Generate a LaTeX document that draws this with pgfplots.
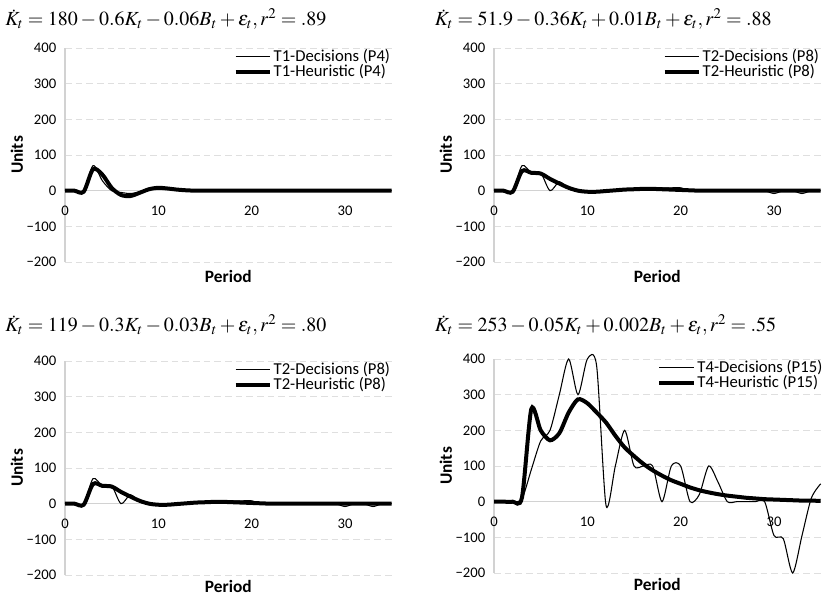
\documentclass[border=0pt]{standalone}
\usepackage{mathptmx}
\usepackage[no-math]{fontspec}
\setmainfont{Carlito}
\usepackage{pgfplots}
\pgfplotsset{compat=1.18}

\pgfplotstableread{
x d1 h1 d2 h2 d4 h4
0 0 0 0 0 0 0
1 0 0 0 0 0 0
2 -3 -3 -3 -3 0 0
3 70 60 70 55 8 12
4 28 45 50 50 90 260
5 0 8 50 48 170 200
6 -5 -12 0 33 200 172
7 -8 -15 25 20 300 192
8 -3 -6 5 8 400 250
9 5 4 0 0 300 287
10 8 8 -3 -3 400 276
11 6 6 -3 -3 380 250
12 3 3 -1 -1 -10 222
13 0 1 1 1 100 185
14 0 0 3 3 200 152
15 0 0 4 4 100 128
16 0 0 8 5 100 106
17 0 0 8 5 100 88
18 0 0 8 4 0 73
19 0 0 8 3 100 60
20 3 0 8 2 100 50
21 0 0 0 1 0 40
22 0 0 0 0 20 32
23 0 0 0 0 100 26
24 0 0 0 0 55 21
25 0 0 0 0 0 17
26 0 0 0 0 0 14
27 3 0 0 0 0 11
28 0 0 0 0 0 9
29 0 0 0 0 0 7
30 0 0 -8 0 -95 6
31 0 0 0 0 -104 5
32 0 0 0 0 -200 4
33 0 0 -8 0 -95 3
34 0 0 0 0 10 3
35 0 0 0 0 50 2
}\data

\newcommand\legfont{\fontsize{12.5}{13}\selectfont}
\pgfplotsset{
 panel/.style={
  scale only axis, width=245pt, height=160.5pt,
  xmin=0, xmax=35, ymin=-200, ymax=400,
  axis x line=middle, axis y line=left,
  hide obscured x ticks=false, hide obscured y ticks=false,
  axis line style={draw=gray!35, line width=0.8pt, -},
  xtick={0,10,20,30}, xticklabels={0,10,20,30},
  ytick={-200,-100,0,100,200,300,400},
  yticklabels={−200,−100,0,100,200,300,400},
  major tick length=0pt,
  ymajorgrids, grid style={dash pattern=on 5pt off 3pt, gray!25, line width=0.6pt},
  tick label style={font=\fontsize{11}{13}\selectfont, black},
  xticklabel style={anchor=north, yshift=-8pt},
  yticklabel style={anchor=east, xshift=-3pt},
  xlabel={Period}, ylabel={Units},
  label style={font=\fontsize{13}{15}\selectfont\bfseries},
  xlabel style={at={(axis description cs:0.5,0)}, anchor=north, yshift=-3pt},
  ylabel style={at={(axis description cs:-0.147,0.5)}, anchor=center},
  legend style={draw=none, fill=none, at={(1.0,1.0)}, anchor=north east,
    font=\legfont, row sep=-1.5pt, inner sep=0pt,
    nodes={inner sep=1pt, font=\legfont}},
  legend cell align=left,
  legend image code/.code={\draw[##1] (0pt,0pt) -- (26pt,0pt);},
  clip=false,
 },
 dec/.style={black, line width=0.8pt, smooth, no markers},
 heu/.style={black, line width=3pt, smooth, no markers},
}

\begin{document}
\begin{tikzpicture}
\useasboundingbox (0,0) rectangle (619.5pt,-448.5pt);

\node[anchor=base west, font=\fontsize{15}{17}\selectfont, inner sep=0pt] at (3.75pt,-19.5pt)
  {$\dot{K}_t = 180 - 0.6K_t - 0.06B_t + \varepsilon_t, r^2 = .89$};
\node[anchor=base west, font=\fontsize{15}{17}\selectfont, inner sep=0pt] at (326pt,-19.5pt)
  {$\dot{K}_t = 51.9 - 0.36K_t + 0.01B_t + \varepsilon_t, r^2 = .88$};
\node[anchor=base west, font=\fontsize{15}{17}\selectfont, inner sep=0pt] at (3.75pt,-249pt)
  {$\dot{K}_t = 119 - 0.3K_t - 0.03B_t + \varepsilon_t, r^2 = .80$};
\node[anchor=base west, font=\fontsize{15}{17}\selectfont, inner sep=0pt] at (326pt,-249pt)
  {$\dot{K}_t = 253 - 0.05K_t + 0.002B_t + \varepsilon_t, r^2 = .55$};

\begin{axis}[panel, at={(48.75pt,-196.5pt)}, anchor=south west]
\addplot[dec] table[x=x,y=d1] {\data};
\addplot[heu] table[x=x,y=h1] {\data};
\legend{T1-Decisions (P4), T1-Heuristic (P4)}
\end{axis}

\begin{axis}[panel, at={(370.5pt,-196.5pt)}, anchor=south west]
\addplot[dec] table[x=x,y=d2] {\data};
\addplot[heu] table[x=x,y=h2] {\data};
\legend{T2-Decisions (P8), T2-Heuristic (P8)}
\end{axis}

\begin{axis}[panel, at={(48.75pt,-431.25pt)}, anchor=south west, xlabel style={yshift=2.5pt}]
\addplot[dec] table[x=x,y=d2] {\data};
\addplot[heu] table[x=x,y=h2] {\data};
\legend{T2-Decisions (P8), T2-Heuristic (P8)}
\end{axis}

\begin{axis}[panel, at={(370.5pt,-429.75pt)}, anchor=south west, xlabel style={yshift=2.5pt},
  legend style={at={(1.01,1.0)}}]
\addplot[dec, tension=0.45] table[x=x,y=d4] {\data};
\addplot[heu, tension=0.45] table[x=x,y=h4] {\data};
\legend{T4-Decisions (P15), T4-Heuristic (P15)}
\end{axis}
\end{tikzpicture}
\end{document}
